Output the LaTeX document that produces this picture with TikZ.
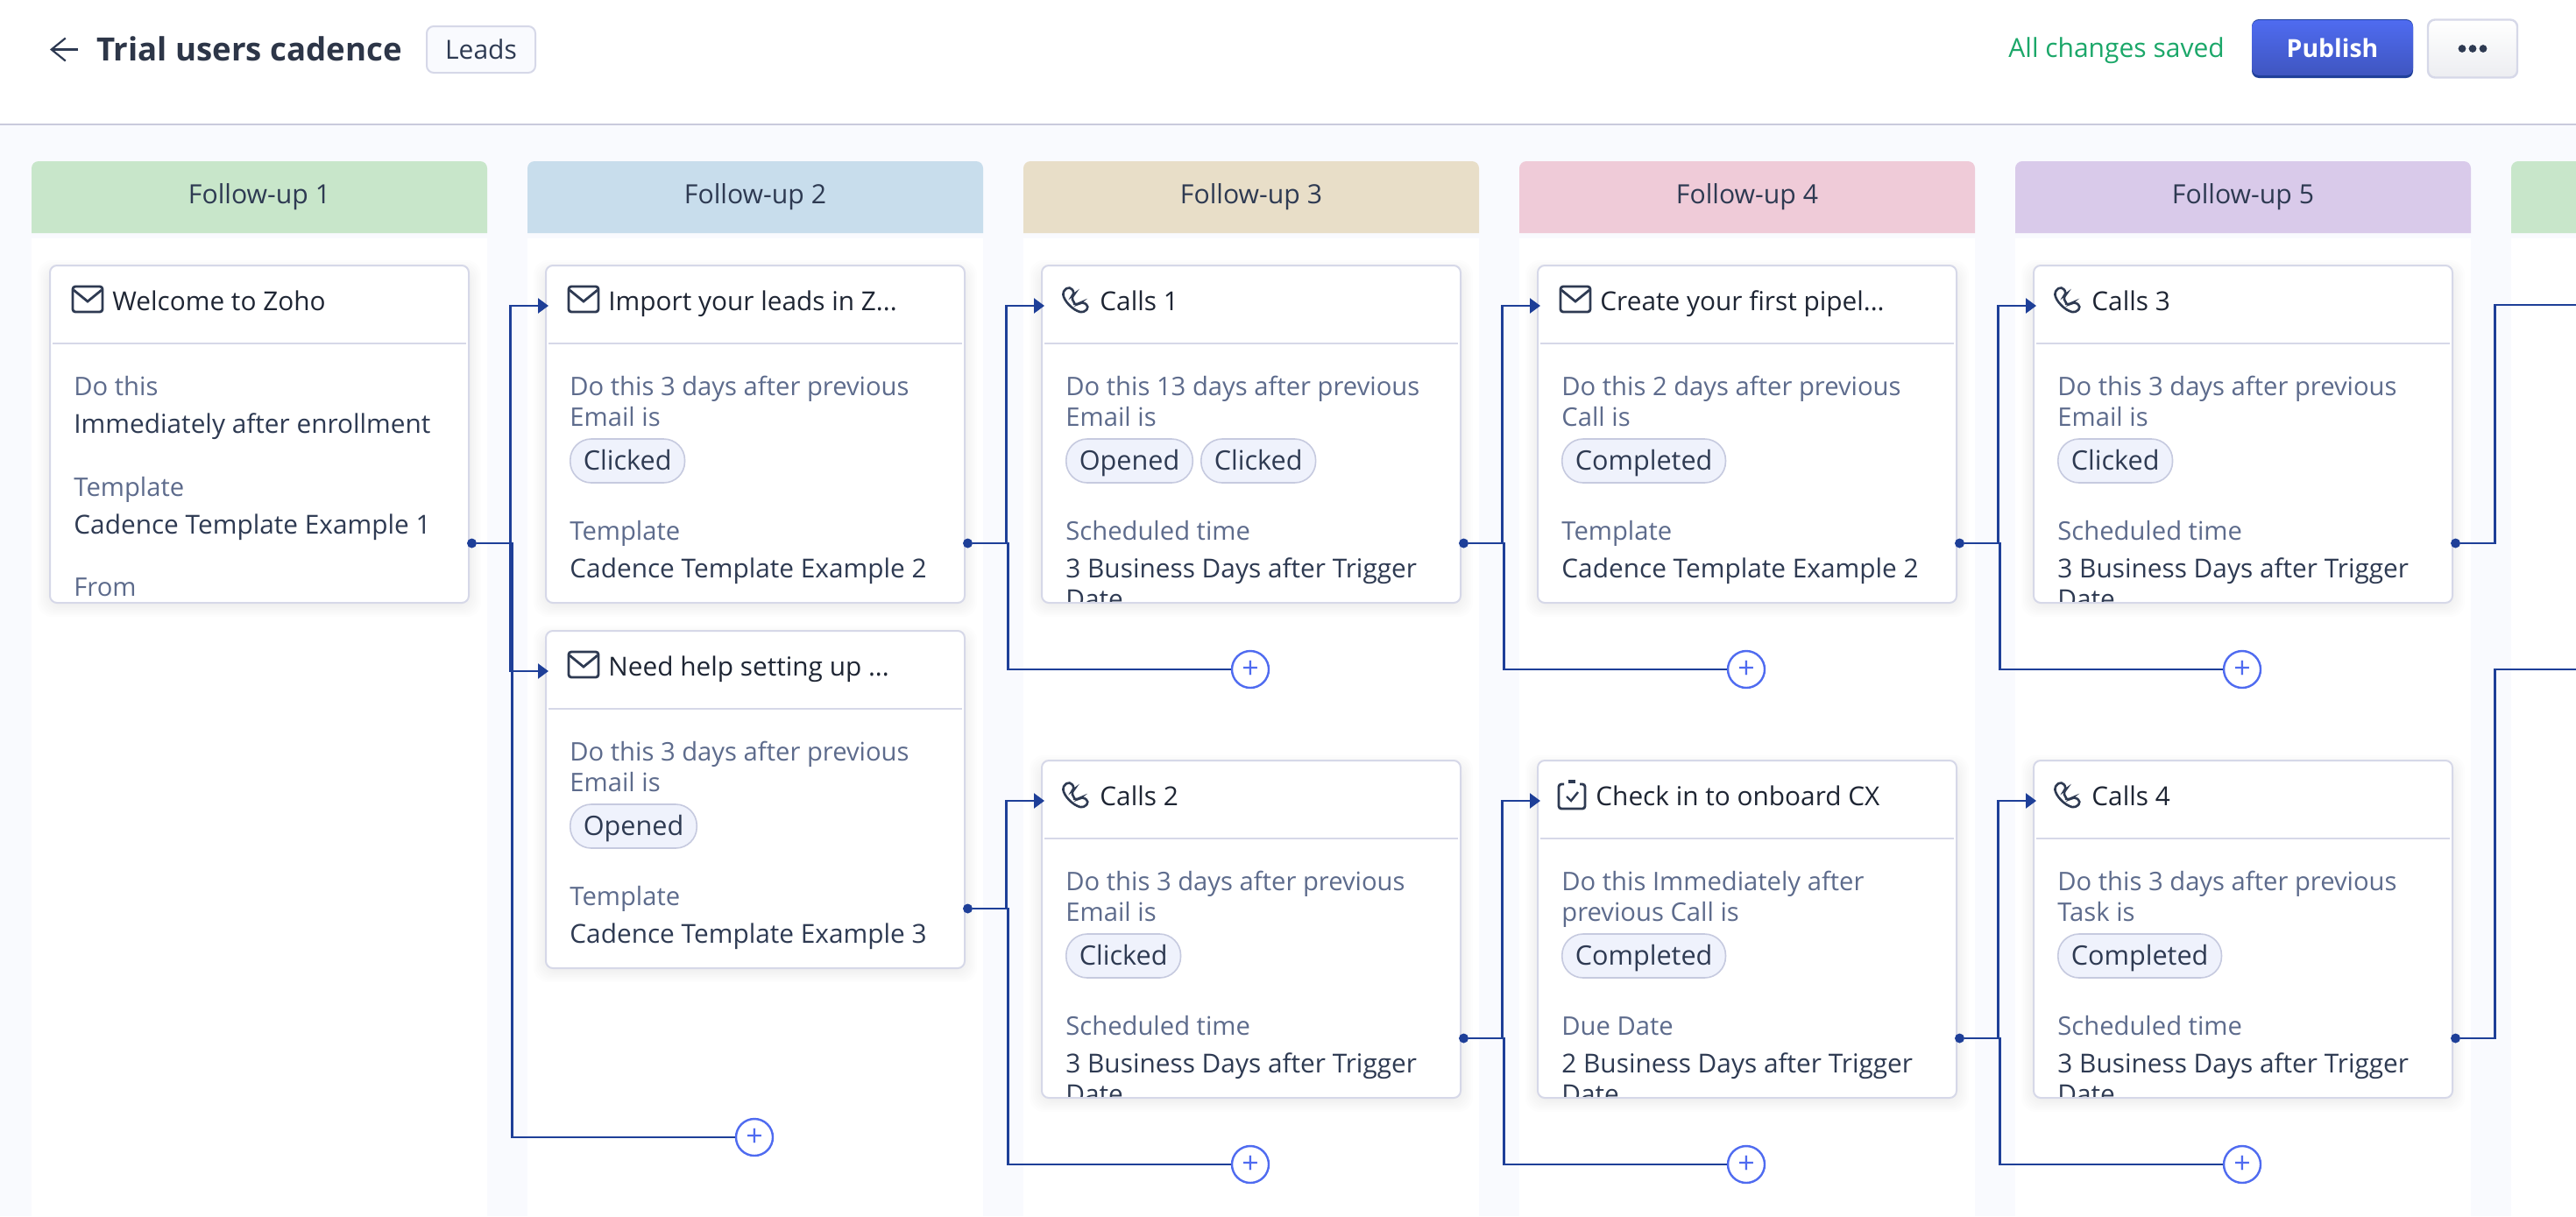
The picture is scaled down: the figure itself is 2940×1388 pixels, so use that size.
\documentclass[tikz,border=0pt]{standalone}
\usepackage{fontspec}
\setmainfont{Open Sans}
\usetikzlibrary{arrows.meta,positioning}

\definecolor{pagebg}{HTML}{F9FAFE}
\definecolor{topline}{HTML}{C9CADC}
\definecolor{inktitle}{HTML}{2D3648}
\definecolor{inkhead}{HTML}{1E2533}
\definecolor{inkval}{HTML}{2E3A52}
\definecolor{inklabel}{HTML}{5D6B8C}
\definecolor{inksaved}{HTML}{1BA769}
\definecolor{linkblue}{HTML}{1E3F98}
\definecolor{addblue}{HTML}{4F6BF0}
\definecolor{edgegrey}{HTML}{D6D8E8}
\definecolor{chipfill}{HTML}{EFF2FC}
\definecolor{chipedge}{HTML}{C6CADF}
\definecolor{hdgreen}{HTML}{C8E6CA}
\definecolor{hdblue}{HTML}{C8DDEC}
\definecolor{hdtan}{HTML}{E8DEC8}
\definecolor{hdpink}{HTML}{EFCBD8}
\definecolor{hdlilac}{HTML}{D9CAEA}

\tikzset{
	followup/.style={font=\fontsize{15.1}{18}\selectfont, text=inkval, anchor=base},
	cardbox/.style={draw=edgegrey, line width=1pt, fill=white, rounded corners=4pt, anchor=north west,
		minimum width=239pt, minimum height=192.5pt, inner sep=0pt, outer sep=0pt},
	headtext/.style={font=\fontsize{14.9}{18}\selectfont, text=inkhead, anchor=base west, inner sep=0pt},
	labeltext/.style={font=\fontsize{14.6}{18}\selectfont, text=inklabel, anchor=base west, inner sep=0pt},
	valuetext/.style={font=\fontsize{14.9}{18}\selectfont, text=inkval, anchor=base west, inner sep=0pt},
	chip/.style={draw=chipedge, line width=.8pt, fill=chipfill, rounded corners=12pt, anchor=base west,
		font=\fontsize{15.3}{18}\selectfont, text=inkval, text height=12pt, text depth=2pt, inner xsep=7.5pt, inner ysep=5.5pt},
	divide/.style={draw=edgegrey, line width=1pt},
	link/.style={draw=linkblue, line width=1.2pt},
	tip/.style={-{Triangle[length=6pt,width=8.5pt]}},
	outdot/.style={circle, fill=linkblue, minimum size=5.5pt, inner sep=0pt},
	addbtn/.style={circle, draw=addblue, line width=1.2pt, fill=white, minimum size=21pt, inner sep=0pt,
		font=\fontsize{17}{17}\selectfont, text=addblue},
	mailicon/.pic={
		\draw[inkval, line width=1.4pt, rounded corners=1.5pt] (0,0) rectangle (34,29);
		\draw[inkval, line width=1.4pt] (1,4) -- (17,17) -- (33,4);
	},
	phoneicon/.pic={
		\draw[inkval, line width=1.3pt, rounded corners=2pt] (1,5) .. controls (2,16) and (12,27) .. (25,30)
			-- (31,23) -- (23,17) -- (18,21) .. controls (15,20) and (12,15) .. (11,11) -- (15,8) -- (9,0) -- cycle;
	},
	taskicon/.pic={
		\draw[inkval, line width=1.4pt, rounded corners=1.5pt] (6,3) -- (0,3) -- (0,31) -- (30,31) -- (30,3) -- (24,3);
		\draw[inkval, line width=1.6pt] (11,0) -- (19,0);
		\draw[inkval, line width=1.2pt] (9,17) -- (14,22) -- (22,12);
	},
}

\begin{document}
\begin{tikzpicture}[x=.5pt, y=-.5pt]
\useasboundingbox (0,0) rectangle (2940,1388);
\fill[pagebg] (0,0) rectangle (2940,1388);
\fill[white] (0,0) rectangle (2940,142);
\draw[topline, line width=1pt] (0,142) -- (2940,142);

% top bar
\coordinate (back-from) at (89,56.5);
\coordinate (back-to) at (57,56.5);
\draw[inkval, line width=1.1pt, -{Straight Barb[length=8pt,width=13pt]}] (back-from) -- (back-to);
\node[anchor=base west, inner sep=0pt, font=\fontsize{18.3}{24}\selectfont\bfseries, text=inktitle] (title) at (110,69) {Trial users cadence};
\node[draw=edgegrey, line width=1pt, fill=pagebg, rounded corners=4pt, minimum width=62pt, minimum height=26.5pt, inner sep=0pt,
	font=\fontsize{15}{18}\selectfont, text=inkval] (leads) at (549,56.5) {Leads};
\node[anchor=base west, inner sep=0pt, font=\fontsize{15}{18}\selectfont, text=inksaved] (saved) at (2292,65) {All changes saved};
\node[fill=linkblue, rounded corners=4pt, minimum width=92pt, minimum height=33.5pt, inner sep=0pt] (publishbase) at (2662,55.5) {};
\node[top color=addblue, bottom color=addblue!80!black, rounded corners=4pt, minimum width=92pt, minimum height=31.5pt, inner sep=0pt,
	font=\fontsize{14.2}{18}\selectfont\bfseries, text=white] (publish) at (2662,54.5) {Publish};
\node[draw=edgegrey, line width=1.2pt, top color=white, bottom color=pagebg!95!black, rounded corners=4pt, minimum width=51pt, minimum height=33pt, inner sep=0pt] (more) at (2822,55.5) {};
\foreach \dx in {-12,0,12}
	\fill[inkval] ([xshift=\dx*.5pt]more.center) circle (2.2pt);

% follow-up columns
\foreach \k/\hx/\hc in {1/36/hdgreen,2/602/hdblue,3/1168/hdtan,4/1734/hdpink,5/2300/hdlilac} {
	\fill[white] (\hx,272) rectangle ++(520,1116);
	\fill[\hc, rounded corners=4pt] (\hx,266) -- (\hx,184) -- ++(520,0) -- ++(0,82);
	\node[followup] (head\k) at (\hx+260,232) {Follow-up \k};
}
\fill[white] (2866,272) rectangle (2940,1388);
\fill[hdgreen, rounded corners=4pt] (2866,266) -- (2866,184) -- (2950,184) -- (2950,266);

% cards
\foreach \nm/\cx/\cy/\ic/\ix/\tx/\ttl in {%
	c1a/57/303/mailicon/26/71/Welcome to Zoho,%
	c2a/623/303/mailicon/26/71/{Import your leads in Z...},%
	c2b/623/720/mailicon/26/71/{Need help setting up ...},%
	c3a/1189/303/phoneicon/23/66/Calls 1,%
	c3b/1189/868/phoneicon/23/66/Calls 2,%
	c4a/1755/303/mailicon/26/71/{Create your first pipel...},%
	c4b/1755/868/taskicon/24/66/Check in to onboard CX,%
	c5a/2321/303/phoneicon/23/66/Calls 3,%
	c5b/2321/868/phoneicon/23/66/Calls 4} {
	\foreach \g in {2,4,...,14}
		\fill[black!60!blue, opacity=.009, rounded corners=8pt] (\cx-\g,\cy+8-\g) rectangle (\cx+478+\g,\cy+385+2+\g);
	\node[cardbox] (\nm) at (\cx,\cy) {};
	\draw[divide] ([shift={(3,89)}]\nm.north west) -- ([shift={(-3,89)}]\nm.north east);
	\pic at ([shift={(\ix,24)}]\nm.north west) {\ic};
	\node[headtext] (\nm-head) at ([shift={(\tx,51)}]\nm.north west) {\ttl};
	\node[outdot] (\nm-out) at ([shift={(3.5,317)}]\nm.north east) {};
	\coordinate (\nm-in) at ([shift={(3,46)}]\nm.north west);
}

% first card has no condition
\node[labeltext] (c1a-when) at ([shift={(27,148)}]c1a.north west) {Do this};
\node[valuetext] (c1a-whenv) at ([shift={(27,191)}]c1a.north west) {Immediately after enrollment};
\node[labeltext] (c1a-tpl) at ([shift={(27,263)}]c1a.north west) {Template};
\node[valuetext] (c1a-tplv) at ([shift={(27,306)}]c1a.north west) {Cadence Template Example 1};
\node[labeltext] (c1a-from) at ([shift={(27,377)}]c1a.north west) {From};

\foreach \nm/\la/\lb/\st/\lc/\vl in {%
	c2a/Do this 3 days after previous/Email is/Clicked/Template/Cadence Template Example 2,%
	c2b/Do this 3 days after previous/Email is/Opened/Template/Cadence Template Example 3,%
	c3a/Do this 13 days after previous/Email is/Opened/Scheduled time/3 Business Days after Trigger,%
	c3b/Do this 3 days after previous/Email is/Clicked/Scheduled time/3 Business Days after Trigger,%
	c4a/Do this 2 days after previous/Call is/Completed/Template/Cadence Template Example 2,%
	c4b/Do this Immediately after/previous Call is/Completed/Due Date/2 Business Days after Trigger,%
	c5a/Do this 3 days after previous/Email is/Clicked/Scheduled time/3 Business Days after Trigger,%
	c5b/Do this 3 days after previous/Task is/Completed/Scheduled time/3 Business Days after Trigger} {
	\node[labeltext] (\nm-l1) at ([shift={(27,148)}]\nm.north west) {\la};
	\node[labeltext] (\nm-l2) at ([shift={(27,183)}]\nm.north west) {\lb};
	\node[chip] (\nm-chip) at ([shift={(27,233)}]\nm.north west) {\st};
	\node[labeltext] (\nm-l3) at ([shift={(27,313)}]\nm.north west) {\lc};
	\node[valuetext] (\nm-val) at ([shift={(27,356)}]\nm.north west) {\vl};
}
\node[chip, anchor=west, right=4pt of c3a-chip] (c3a-chip2) {Clicked};

% second line runs past the card
\foreach \nm in {c3a,c3b,c4b,c5a,c5b} {
	\begin{scope}
	\clip ([shift={(2,2)}]\nm.north west) rectangle ([shift={(-2,-2)}]\nm.south east);
	\node[valuetext] (\nm-date) at ([shift={(27,391)}]\nm.north west) {Date};
	\end{scope}
}

% add buttons
\foreach \nm/\px/\py in {add2/861/1298,add3a/1427/764,add3b/1427/1329,add4a/1993/764,add4b/1993/1329,add5a/2559/764,add5b/2559/1329}
	\node[addbtn] (\nm) at (\px,\py) {+};

\coordinate (next-a) at (2940,348);
\coordinate (next-b) at (2940,764);

% connectors
\foreach \s/\t in {c1a/c2a,c1a/c2b,c2a/c3a,c2b/c3b,c3a/c4a,c3b/c4b,c4a/c5a,c4b/c5b}
	\draw[link, tip] (\s-out) -- ++(44,0) |- (\t-in);
\foreach \s/\t in {c1a/add2,c2a/add3a,c2b/add3b,c3a/add4a,c3b/add4b,c4a/add5a,c4b/add5b}
	\draw[link] (\s-out) -- ++(46,0) |- (\t);
\draw[link] (c5a-out) -- ++(45,0) |- (next-a);
\draw[link] (c5b-out) -- ++(45,0) |- (next-b);

\end{tikzpicture}
\end{document}
